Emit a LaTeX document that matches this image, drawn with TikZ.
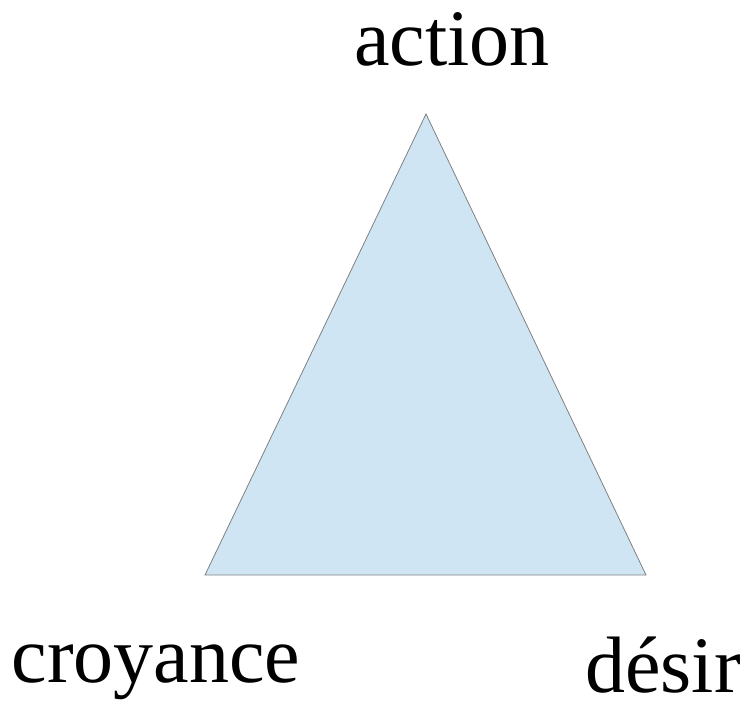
\documentclass[tikz,border=0pt]{standalone}
\usepackage{fontspec}
\setmainfont{Liberation Serif}
\definecolor{trifill}{RGB}{207,229,243}
\definecolor{triline}{RGB}{128,128,128}
\begin{document}
\begin{tikzpicture}[x=1pt,y=-1pt,
  lab/.style={anchor=base,inner sep=0pt,text depth=0pt,font=\fontsize{80}{96}\selectfont}]
\useasboundingbox (0,0) rectangle (748,702);
\coordinate (top) at (426,114);
\coordinate (bl) at (205,575);
\coordinate (br) at (646,575);
\draw[fill=trifill,draw=triline,line width=0.8pt,line join=miter] (top) -- (bl) -- (br) -- cycle;
\node[lab] (action) at (452,65) {action};
\node[lab] (croyance) at (156,682) {croyance};
\node[lab] (desir) at (663,692) {désir};
\end{tikzpicture}
\end{document}
